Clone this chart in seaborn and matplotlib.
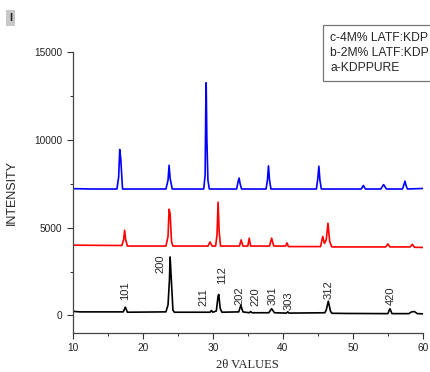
import matplotlib
matplotlib.use("Agg")
import matplotlib.pyplot as plt
import seaborn as sns
import pandas as pd

# c - 4M% LATF:KDP (blue), vertices
c_theta = [10, 12.5, 16.3, 16.55, 16.7, 16.85, 17.1, 23.3, 23.6, 23.75, 23.9, 24.2,
           28.7, 28.9, 29.0, 29.05, 29.15, 29.3, 29.5, 33.4, 33.6, 33.75, 33.9, 34.1,
           37.6, 37.8, 37.95, 38.1, 38.3, 44.8, 45.0, 45.15, 45.3, 45.5,
           51.2, 51.5, 51.8, 54.0, 54.4, 54.8, 57.1, 57.3, 57.45, 57.6, 57.8, 60]
c_int = [7220, 7200, 7200, 7900, 9450, 8900, 7200, 7200, 7700, 8550, 7800, 7200,
         7200, 8000, 12200, 13250, 10000, 7700, 7200, 7200, 7600, 7820, 7500, 7200,
         7200, 7700, 8520, 7700, 7200, 7200, 7800, 8500, 7700, 7200,
         7200, 7400, 7200, 7200, 7450, 7200, 7200, 7450, 7650, 7400, 7200, 7230]

# b - 2M% LATF:KDP (red)
b_theta = [10, 17.0, 17.25, 17.4, 17.55, 17.8, 23.3, 23.6, 23.75, 23.9, 24.1, 24.3,
           29.3, 29.6, 29.9, 30.4, 30.6, 30.75, 30.9, 31.1, 33.8, 34.05, 34.3,
           35.0, 35.2, 35.4, 38.1, 38.4, 38.7, 40.4, 40.6, 40.8,
           45.4, 45.7, 45.95, 46.2, 46.45, 46.7, 47.0, 54.7, 55.0, 55.3,
           58.2, 58.5, 58.8, 60]
b_int = [4000, 3980, 4300, 4850, 4300, 3950, 3950, 4500, 6050, 5800, 4200, 3950,
         3950, 4180, 3950, 3950, 4600, 6450, 4800, 3950, 3950, 4300, 3950,
         3950, 4400, 3950, 3950, 4400, 3950, 3950, 4130, 3920,
         3920, 4500, 4100, 4300, 5250, 4200, 3900, 3900, 4070, 3900,
         3900, 4050, 3880, 3870]

# a - KDP pure (black)
a_theta = [10, 11, 17.2, 17.5, 17.8, 23.3, 23.6, 23.8, 23.9, 24.05, 24.3, 24.5,
           29.6, 29.8, 30.0, 30.5, 30.75, 30.85, 31.05, 31.3, 33.7, 34.0, 34.3,
           35.2, 35.4, 35.6, 38.0, 38.4, 38.8, 40.5, 40.7, 40.9,
           46.0, 46.2, 46.5, 46.8, 47.0, 49.0, 55.0, 55.3, 55.6,
           58.0, 58.4, 58.8, 59.2, 60]
a_int = [230, 200, 200, 470, 180, 200, 600, 2000, 3330, 2200, 300, 180,
         180, 280, 180, 250, 1100, 1190, 400, 180, 200, 570, 200,
         150, 220, 150, 150, 380, 150, 130, 200, 130,
         150, 300, 810, 250, 120, 110, 100, 380, 100,
         100, 200, 220, 100, 90]

# (hkl) labels on the pure pattern
hkl = ["101", "200", "211", "112", "202", "220", "301", "303", "312", "420"]
hkl_theta = [17.5, 22.5, 28.6, 31.3, 33.8, 36.1, 38.5, 40.8, 46.6, 55.4]
hkl_y = [900, 2400, 510, 1760, 620, 530, 620, 300, 910, 570]

legend_labels = ["c-4M% LATF:KDP", "b-2M% LATF:KDP", "a-KDPPURE"]

sns.set_style("ticks")
plt.rcParams["font.family"] = ["Liberation Sans", "DejaVu Sans"]

fig = plt.figure(figsize=(4.31, 3.72), dpi=100)
ax = fig.add_axes([0.169, 0.105, 0.812, 0.755])

series = [(c_theta, c_int, "#0000ff"), (b_theta, b_int, "#ff0000"), (a_theta, a_int, "black")]
for (x, y, col), lab in zip(series, legend_labels):
    df = pd.DataFrame({"theta": x, "intensity": y})
    sns.lineplot(data=df, x="theta", y="intensity", color=col, lw=1.2,
                 sort=False, estimator=None, ax=ax, label=lab)

for lab, x, y in zip(hkl, hkl_theta, hkl_y):
    ax.text(x, y, lab, rotation=90, ha="center", va="bottom", fontsize=8)

ax.set_xlim(10, 60)
ax.set_ylim(-1000, 15000)
ax.set_xticks([10, 20, 30, 40, 50, 60])
ax.set_xticks([15, 25, 35, 45, 55], minor=True)
ax.set_yticks([0, 5000, 10000, 15000])
ax.set_yticks([2500, 7500, 12500], minor=True)
ax.tick_params(axis="both", which="major", labelsize=7.3, length=4, width=0.8,
               direction="out", colors="#333333", labelcolor="#222222")
ax.tick_params(axis="both", which="minor", length=2.5, width=0.7,
               direction="out", colors="#333333")
sns.despine(ax=ax)
for s in ["left", "bottom"]:
    ax.spines[s].set_color("#444444")
    ax.spines[s].set_linewidth(0.9)

ax.set_xlabel("2θ VALUES", fontsize=9, family=["Liberation Serif", "DejaVu Serif"],
              labelpad=4)
ax.set_ylabel("INTENSITY", fontsize=9, labelpad=12)

leg = ax.legend(loc="upper left", bbox_to_anchor=(0.749, 0.933),
                bbox_transform=fig.transFigure, handlelength=0, handletextpad=0,
                fontsize=8.7, frameon=True, fancybox=False, borderpad=0.6,
                labelspacing=0.25, borderaxespad=0)
for h in leg.legend_handles:
    h.set_visible(False)
leg.get_frame().set_edgecolor("#555555")
leg.get_frame().set_linewidth(0.9)

fig.text(0.021, 0.952, "I", fontsize=8, fontweight="bold", ha="left", va="center",
         bbox=dict(boxstyle="square,pad=0.25", facecolor="#c8c8c8", edgecolor="none"))

fig.savefig("out.png", dpi=100)
